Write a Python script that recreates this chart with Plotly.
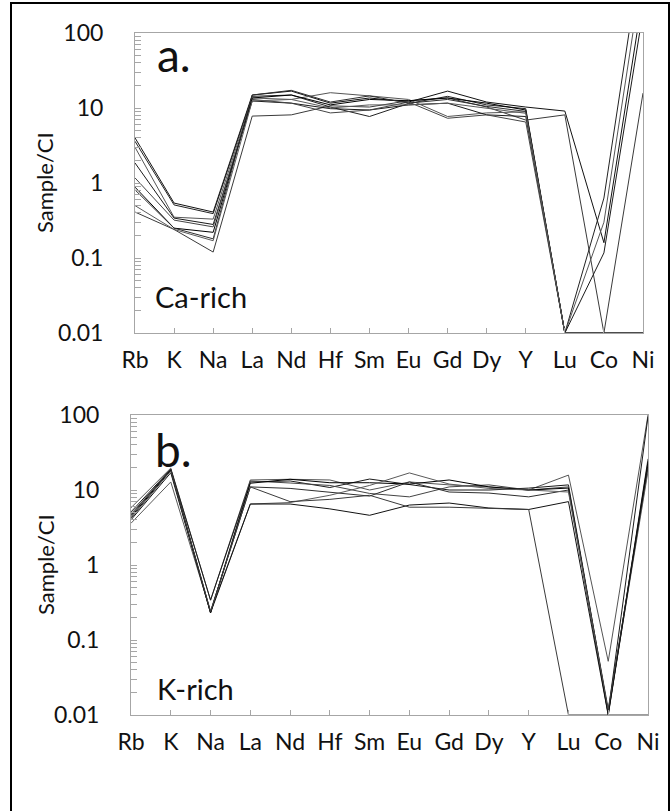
import plotly.graph_objects as go

W, H = 670, 811

categories = ["Rb", "K", "Na", "La", "Nd", "Hf", "Sm", "Eu", "Gd", "Dy", "Y", "Lu", "Co", "Ni"]

# Panel a: Ca-rich samples (sample / CI)
ca1 = [4.0, 0.54, 0.41, 14.9, 16.8, 11.6, 13.6, 12.0, 16.8, 12.0, 10.3, 9.1, 0.16, 320]
ca2 = [0.41, 0.24, 0.12, 7.8, 8.1, 10.7, 10.3, 12.5, 13.6, 10.3, 6.9, 8.1, 0.01, 15.8]
ca3 = [3.6, 0.51, 0.39, 14.3, 14.9, 10.3, 7.7, 11.5, 14.3, 11.0, 9.8, 0.01, 0.63, 1700]
ca4 = [3.0, 0.35, 0.33, 13.6, 13.0, 16.0, 14.5, 13.0, 7.7, 8.6, 8.9, 0.01, 0.30, 750]
ca5 = [1.85, 0.34, 0.28, 12.4, 11.6, 9.8, 9.4, 11.0, 11.6, 8.1, 7.7, 0.01, 0.117, 190]
ca6 = [1.17, 0.32, 0.26, 13.0, 11.6, 8.6, 9.4, 12.0, 7.3, 8.1, 6.5, 0.01, 0.01, 0.01]
ca7 = [0.88, 0.25, 0.22, 13.6, 14.9, 11.0, 13.0, 12.5, 13.6, 11.6, 9.4, 0.01, 0.01, 0.01]
ca8 = [0.81, 0.25, 0.18, 14.9, 17.2, 12.0, 14.5, 11.6, 13.0, 10.5, 9.0, 0.01, 0.01, 0.01]
ca9 = [0.50, 0.24, 0.17, 12.4, 13.0, 10.0, 11.0, 11.0, 11.6, 10.0, 8.5, 0.01, 0.01, 0.01]
ca_series = [ca1, ca2, ca3, ca4, ca5, ca6, ca7, ca8, ca9]

# Panel b: K-rich samples (sample / CI)
k1 = [5.8, 19.6, 0.34, 13.6, 13.9, 13.6, 10.0, 12.8, 11.7, 11.0, 10.0, 15.8, 0.052, 100]
k2 = [5.1, 19.0, 0.34, 12.8, 13.2, 10.8, 14.0, 11.7, 10.0, 10.0, 10.6, 11.7, 0.011, 95]
k3 = [4.8, 18.5, 0.23, 13.2, 12.4, 11.5, 9.0, 8.1, 11.0, 11.7, 10.0, 11.0, 0.010, 26]
k4 = [4.4, 18.5, 0.23, 12.3, 13.9, 12.5, 12.5, 12.0, 13.6, 11.0, 10.0, 10.6, 0.0105, 24]
k5 = [4.6, 19.0, 0.24, 11.0, 10.5, 9.4, 8.3, 12.8, 9.4, 9.1, 8.1, 10.0, 0.012, 19.6]
k6 = [3.6, 12.8, 0.24, 6.5, 6.8, 8.5, 11.5, 16.9, 12.0, 10.5, 10.0, 9.4, 0.011, 17.8]
k7 = [4.0, 17.0, 0.23, 6.5, 6.5, 5.6, 4.6, 6.3, 6.7, 5.75, 5.5, 7.0, 0.010, 22]
k8 = [4.2, 18.0, 0.24, 11.0, 7.0, 7.5, 8.5, 5.9, 5.9, 5.75, 5.5, 0.01, 0.01, 0.01]
k_series = [k1, k2, k3, k4, k5, k6, k7, k8]

y_tickvals = [0.01, 0.1, 1, 10, 100]
y_ticktext = ["0.01", "0.1", "1", "10", "100"]

line_colors = ["#111111", "#3a3a3a", "#222222", "#555555", "#1a1a1a", "#444444", "#000000", "#2e2e2e", "#5a5a5a"]

FONT = "Lato"
AX = "#a6a6a6"


def px_x(x):
    return x / W


def px_y(y):
    return 1 - y / H


fig = go.Figure()

for i, s in enumerate(ca_series):
    fig.add_trace(go.Scatter(x=categories, y=s, mode="lines", xaxis="x", yaxis="y",
                             line=dict(color=line_colors[i % len(line_colors)], width=1),
                             showlegend=False, hoverinfo="skip"))
for i, s in enumerate(k_series):
    fig.add_trace(go.Scatter(x=categories, y=s, mode="lines", xaxis="x2", yaxis="y2",
                             line=dict(color=line_colors[(i + 3) % len(line_colors)], width=1),
                             showlegend=False, hoverinfo="skip"))


def xaxis_cfg(domain, anchor):
    return dict(domain=domain, anchor=anchor, type="category", categoryorder="array",
                categoryarray=categories, range=[0, len(categories) - 1],
                showline=True, linecolor=AX, linewidth=1, mirror=True,
                ticks="inside", ticklen=5, tickcolor=AX, showgrid=False, zeroline=False,
                tickfont=dict(family=FONT, size=23, color="#111111"),
                ticklabelstandoff=6, automargin=False, fixedrange=True)


def yaxis_cfg(domain, anchor):
    return dict(domain=domain, anchor=anchor, type="log", range=[-2, 2],
                tickvals=y_tickvals, ticktext=y_ticktext,
                showline=True, linecolor=AX, linewidth=1, mirror=True,
                ticks="inside", ticklen=6, tickcolor=AX, showgrid=False, zeroline=False,
                minor=dict(ticks="inside", ticklen=6, tickcolor=AX, dtick="D1", showgrid=False),
                tickfont=dict(family=FONT, size=23, color="#111111"),
                ticklabelstandoff=26, automargin=False, fixedrange=True)


fig.update_layout(
    width=W, height=H,
    margin=dict(l=0, r=0, t=0, b=0),
    paper_bgcolor="white", plot_bgcolor="white",
    showlegend=False,
    xaxis=xaxis_cfg([px_x(135), px_x(643)], "y"),
    yaxis=yaxis_cfg([px_y(333), px_y(33)], "x"),
    xaxis2=xaxis_cfg([px_x(131), px_x(648)], "y2"),
    yaxis2=yaxis_cfg([px_y(715), px_y(415)], "x2"),
)

annots = [
    dict(text="a.", x=px_x(155), y=px_y(55), size=46),
    dict(text="Ca-rich", x=px_x(153), y=px_y(296), size=29),
    dict(text="b.", x=px_x(153), y=px_y(449), size=46),
    dict(text="K-rich", x=px_x(155), y=px_y(688), size=29),
]
for a in annots:
    fig.add_annotation(text=a["text"], x=a["x"], y=a["y"], xref="paper", yref="paper",
                       xanchor="left", yanchor="middle", showarrow=False,
                       font=dict(family=FONT, size=a["size"], color="#111111"))

for yc in [183, 565]:
    fig.add_annotation(text="Sample/CI", x=px_x(45), y=px_y(yc), xref="paper", yref="paper",
                       xanchor="center", yanchor="middle", textangle=-90, showarrow=False,
                       font=dict(family=FONT, size=22, color="#111111"))

fig.add_shape(type="rect", xref="paper", yref="paper",
              x0=px_x(11), x1=px_x(669), y0=-0.02, y1=px_y(3),
              line=dict(color="black", width=2), fillcolor="rgba(0,0,0,0)", layer="above")

fig.write_html("out.html", config=dict(displayModeBar=False))
